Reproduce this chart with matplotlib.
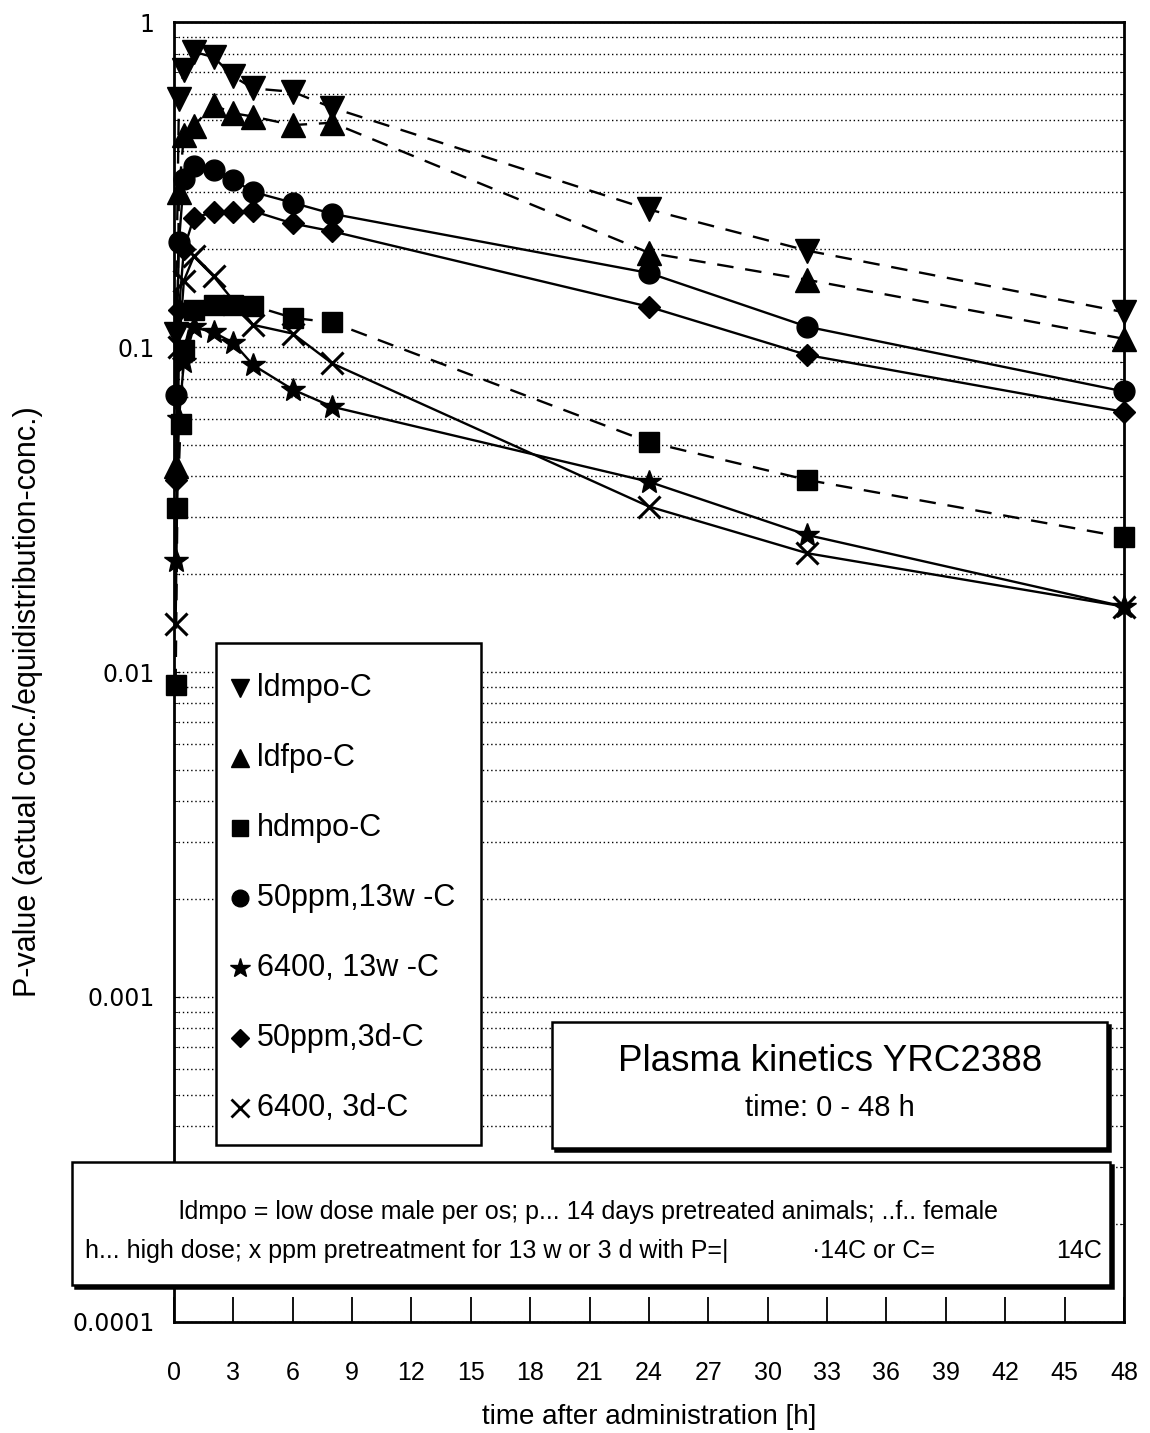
import matplotlib
matplotlib.use('Agg')
import matplotlib.pyplot as plt
from matplotlib.patches import Rectangle
from matplotlib.ticker import LogLocator, NullFormatter, FixedLocator

plt.rcParams['font.family'] = ['Liberation Sans', 'DejaVu Sans']

# --- plasma kinetics data: time after administration [h] vs. P-value ---

t_ldmpo = [0.083, 0.25, 0.5, 1, 2, 3, 4, 6, 8, 24, 32, 48]
p_ldmpo = [0.11, 0.58, 0.71, 0.81, 0.78, 0.68, 0.625, 0.61, 0.545, 0.265, 0.198, 0.128]

t_ldfpo = [0.083, 0.25, 0.5, 1, 2, 3, 4, 6, 8, 24, 32, 48]
p_ldfpo = [0.043, 0.30, 0.45, 0.48, 0.555, 0.524, 0.512, 0.482, 0.49, 0.195, 0.161, 0.106]

t_hdmpo = [0.083, 0.17, 0.33, 0.5, 1, 2, 3, 4, 6, 8, 24, 32, 48]
p_hdmpo = [0.0091, 0.032, 0.058, 0.098, 0.13, 0.135, 0.135, 0.134, 0.123, 0.119, 0.051, 0.039, 0.026]

t_50ppm_13w = [0.083, 0.25, 0.5, 1, 2, 3, 4, 6, 8, 24, 32, 48]
p_50ppm_13w = [0.071, 0.21, 0.33, 0.36, 0.35, 0.327, 0.30, 0.278, 0.257, 0.169, 0.1155, 0.073]

t_6400_13w = [0.083, 0.25, 0.5, 1, 2, 3, 4, 6, 8, 24, 32, 48]
p_6400_13w = [0.022, 0.06, 0.09, 0.115, 0.111, 0.103, 0.088, 0.074, 0.0655, 0.0385, 0.0264, 0.0159]

t_50ppm_3d = [0.083, 0.25, 0.5, 1, 2, 3, 4, 6, 8, 24, 32, 48]
p_50ppm_3d = [0.039, 0.13, 0.2, 0.25, 0.26, 0.26, 0.262, 0.24, 0.227, 0.133, 0.0945, 0.0632]

t_6400_3d = [0.083, 0.25, 0.5, 1, 2, 4, 6, 8, 24, 32, 48]
p_6400_3d = [0.0141, 0.10, 0.16, 0.19, 0.165, 0.117, 0.110, 0.089, 0.0323, 0.0232, 0.0159]

labels = ['ldmpo-C', 'ldfpo-C', 'hdmpo-C', '50ppm,13w -C', '6400, 13w -C', '50ppm,3d-C', '6400, 3d-C']
x_ticks = list(range(0, 49, 3))
y_ticks = [0.0001, 0.001, 0.01, 0.1, 1]
y_tick_labels = ['0.0001', '0.001', '0.01', '0.1', '1']

dashed = (0, (7, 5))
series = [
    (t_ldmpo, p_ldmpo, 'v', 17, dashed),
    (t_ldfpo, p_ldfpo, '^', 17, dashed),
    (t_hdmpo, p_hdmpo, 's', 15, dashed),
    (t_50ppm_13w, p_50ppm_13w, 'o', 15, '-'),
    (t_6400_13w, p_6400_13w, '*', 18, '-'),
    (t_50ppm_3d, p_50ppm_3d, 'D', 11, '-'),
    (t_6400_3d, p_6400_3d, 'x', 16, '-'),
]


def boxed(patch_kw, transform, rect):
    # white box with a slightly heavier bottom/right edge
    x, y, w, h = rect
    shadow = Rectangle((x, y), w, h, transform=transform, facecolor='black',
                       edgecolor='black', linewidth=1.8, clip_on=False, **patch_kw)
    box = Rectangle((x, y), w, h, transform=transform, facecolor='white',
                    edgecolor='black', linewidth=1.8, clip_on=False, **patch_kw)
    return shadow, box


fig = plt.figure(figsize=(11.5, 14.33), dpi=100)
ax = fig.add_axes([0.1513, 0.0775, 0.826, 0.9071])

for t, p, mk, ms, ls in series:
    ax.plot(t, p, color='black', linestyle=ls, linewidth=1.7, marker=mk, markersize=ms,
            markeredgewidth=2.2 if mk == 'x' else 1, markerfacecolor='black',
            markeredgecolor='black', clip_on=False, zorder=3)

ax.set_yscale('log')
ax.set_xlim(0, 48)
ax.set_ylim(0.0001, 1)
ax.yaxis.set_major_locator(FixedLocator(y_ticks))
ax.set_yticklabels(y_tick_labels, family='DejaVu Sans', fontsize=17)
ax.yaxis.set_minor_locator(LogLocator(base=10, subs=range(2, 10)))
ax.yaxis.set_minor_formatter(NullFormatter())
ax.set_xticks(x_ticks)
ax.set_xticklabels([str(v) for v in x_ticks], fontsize=18)

ax.grid(True, axis='y', which='both', color='black', linestyle=(0, (1, 2)), linewidth=1.0, zorder=1)
ax.set_axisbelow(True)

ax.tick_params(axis='x', which='major', direction='in', length=18, width=1.3, pad=28)
ax.tick_params(axis='y', which='major', direction='in', length=4, pad=14)
ax.tick_params(axis='y', which='minor', direction='in', length=3, right=True)
for sp in ax.spines.values():
    sp.set_linewidth(2)

ax.set_ylabel('P-value (actual conc./equidistribution-conc.)', fontsize=22)
ax.yaxis.set_label_coords(-0.138, 0.477)
ax.set_xlabel('time after administration [h]', fontsize=20, labelpad=14)

# legend box (markers only)
ax.add_patch(Rectangle((0.0442, 0.1362), 0.279, 0.3861, transform=ax.transAxes,
                       facecolor='white', edgecolor='black', linewidth=1.8, zorder=5, clip_on=False))
row_y = 0.4877
for (t, p, mk, ms, ls), lab in zip(series, labels):
    ax.plot([0.069], [row_y], transform=ax.transAxes, marker=mk, markersize=ms * 0.8,
            color='black', markeredgewidth=2 if mk == 'x' else 1, linestyle='none',
            clip_on=False, zorder=6)
    ax.text(0.087, row_y, lab, transform=ax.transAxes, fontsize=22, va='center', ha='left', zorder=6)
    row_y -= 0.0538

# title box
off_x, off_y = 3 / 950, 3 / 1300
shadow, box = boxed({'zorder': 5}, ax.transAxes, (0.398, 0.1338, 0.584, 0.097))
shadow.set_xy((0.398 + off_x, 0.1338 - off_y))
ax.add_patch(shadow)
ax.add_patch(box)
ax.text(0.6905, 0.200, 'Plasma kinetics YRC2388', transform=ax.transAxes, fontsize=26.5,
        ha='center', va='center', zorder=6)
ax.text(0.6905, 0.1646, 'time: 0 - 48 h', transform=ax.transAxes, fontsize=21,
        ha='center', va='center', zorder=6)

# abbreviation note spanning the lower part of the figure
shadow, box = boxed({'zorder': 10}, fig.transFigure, (0.0626, 0.1033, 0.9026, 0.0858))
shadow.set_xy((0.0626 + 3 / 1150, 0.1033 - 3 / 1433))
fig.patches.append(shadow)
fig.patches.append(box)
fig.text(0.512, 0.154, 'ldmpo = low dose male per os; p... 14 days pretreated animals; ..f.. female',
         fontsize=18, ha='center', va='center', zorder=11)
fig.text(0.074, 0.127, 'h... high dose; x ppm pretreatment for 13 w or 3 d with P=|',
         fontsize=18, ha='left', va='center', zorder=11)
fig.text(0.706, 0.127, '·14C or C=', fontsize=18, ha='left', va='center', zorder=11)
fig.text(0.918, 0.127, '14C', fontsize=18, ha='left', va='center', zorder=11)

fig.savefig('out.png', dpi=100, facecolor='white')
